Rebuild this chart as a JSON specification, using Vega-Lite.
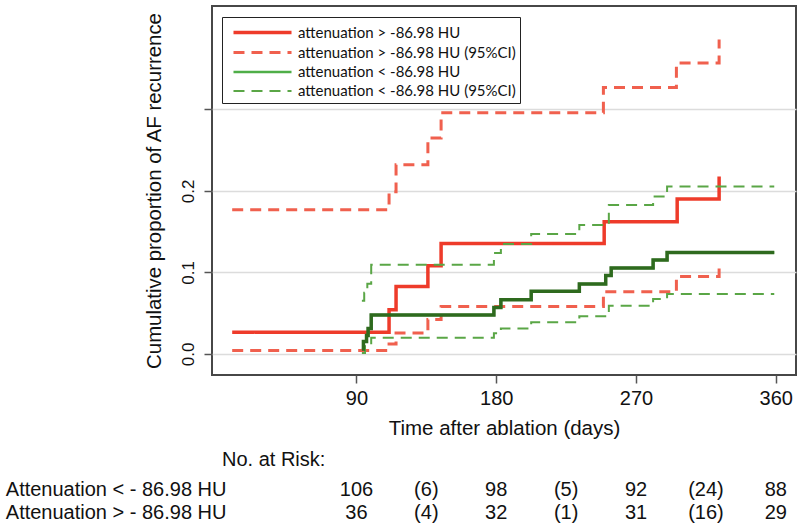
{
  "$schema": "https://vega.github.io/schema/vega-lite/v6.json",
  "padding": 5,
  "config": {
    "font": "Liberation Sans",
    "view": {"stroke": "#474747", "strokeWidth": 2},
    "axis": {"labelColor": "#111", "titleColor": "#111", "tickColor": "#555", "titleFontWeight": "normal"}
  },
  "datasets": {
    "curves": [
      {"series": "attenuation > -86.98 HU", "bound": "est", "t": 10, "p": 0.0265},
      {"series": "attenuation > -86.98 HU", "bound": "est", "t": 111, "p": 0.054},
      {"series": "attenuation > -86.98 HU", "bound": "est", "t": 115.5, "p": 0.0825},
      {"series": "attenuation > -86.98 HU", "bound": "est", "t": 136, "p": 0.108},
      {"series": "attenuation > -86.98 HU", "bound": "est", "t": 144.5, "p": 0.1355},
      {"series": "attenuation > -86.98 HU", "bound": "est", "t": 249.5, "p": 0.162},
      {"series": "attenuation > -86.98 HU", "bound": "est", "t": 296.5, "p": 0.19},
      {"series": "attenuation > -86.98 HU", "bound": "est", "t": 323.5, "p": 0.2177},

      {"series": "attenuation > -86.98 HU (95%CI)", "bound": "upper", "t": 10, "p": 0.177},
      {"series": "attenuation > -86.98 HU (95%CI)", "bound": "upper", "t": 111, "p": 0.199},
      {"series": "attenuation > -86.98 HU (95%CI)", "bound": "upper", "t": 115.5, "p": 0.232},
      {"series": "attenuation > -86.98 HU (95%CI)", "bound": "upper", "t": 136, "p": 0.265},
      {"series": "attenuation > -86.98 HU (95%CI)", "bound": "upper", "t": 144.5, "p": 0.296},
      {"series": "attenuation > -86.98 HU (95%CI)", "bound": "upper", "t": 249, "p": 0.327},
      {"series": "attenuation > -86.98 HU (95%CI)", "bound": "upper", "t": 296, "p": 0.357},
      {"series": "attenuation > -86.98 HU (95%CI)", "bound": "upper", "t": 323.5, "p": 0.386},

      {"series": "attenuation > -86.98 HU (95%CI)", "bound": "lower", "t": 10, "p": 0.004},
      {"series": "attenuation > -86.98 HU (95%CI)", "bound": "lower", "t": 111, "p": 0.012},
      {"series": "attenuation > -86.98 HU (95%CI)", "bound": "lower", "t": 115.5, "p": 0.0257},
      {"series": "attenuation > -86.98 HU (95%CI)", "bound": "lower", "t": 136, "p": 0.042},
      {"series": "attenuation > -86.98 HU (95%CI)", "bound": "lower", "t": 144.5, "p": 0.058},
      {"series": "attenuation > -86.98 HU (95%CI)", "bound": "lower", "t": 249, "p": 0.0763},
      {"series": "attenuation > -86.98 HU (95%CI)", "bound": "lower", "t": 296, "p": 0.095},
      {"series": "attenuation > -86.98 HU (95%CI)", "bound": "lower", "t": 323.5, "p": 0.108},

      {"series": "attenuation < -86.98 HU", "bound": "est", "t": 93.5, "p": 0.006},
      {"series": "attenuation < -86.98 HU", "bound": "est", "t": 94.5, "p": 0.015},
      {"series": "attenuation < -86.98 HU", "bound": "est", "t": 96.5, "p": 0.0224},
      {"series": "attenuation < -86.98 HU", "bound": "est", "t": 97.5, "p": 0.031},
      {"series": "attenuation < -86.98 HU", "bound": "est", "t": 99.5, "p": 0.0478},
      {"series": "attenuation < -86.98 HU", "bound": "est", "t": 178.5, "p": 0.057},
      {"series": "attenuation < -86.98 HU", "bound": "est", "t": 183, "p": 0.0665},
      {"series": "attenuation < -86.98 HU", "bound": "est", "t": 202.5, "p": 0.0768},
      {"series": "attenuation < -86.98 HU", "bound": "est", "t": 233.5, "p": 0.0858},
      {"series": "attenuation < -86.98 HU", "bound": "est", "t": 250.5, "p": 0.096},
      {"series": "attenuation < -86.98 HU", "bound": "est", "t": 254, "p": 0.1054},
      {"series": "attenuation < -86.98 HU", "bound": "est", "t": 281, "p": 0.1152},
      {"series": "attenuation < -86.98 HU", "bound": "est", "t": 290, "p": 0.1245},
      {"series": "attenuation < -86.98 HU", "bound": "est", "t": 359, "p": 0.1245},

      {"series": "attenuation < -86.98 HU (95%CI)", "bound": "upper", "t": 93.5, "p": 0.065},
      {"series": "attenuation < -86.98 HU (95%CI)", "bound": "upper", "t": 95, "p": 0.075},
      {"series": "attenuation < -86.98 HU (95%CI)", "bound": "upper", "t": 97, "p": 0.086},
      {"series": "attenuation < -86.98 HU (95%CI)", "bound": "upper", "t": 99.5, "p": 0.1094},
      {"series": "attenuation < -86.98 HU (95%CI)", "bound": "upper", "t": 178.5, "p": 0.1237},
      {"series": "attenuation < -86.98 HU (95%CI)", "bound": "upper", "t": 183, "p": 0.1348},
      {"series": "attenuation < -86.98 HU (95%CI)", "bound": "upper", "t": 202.5, "p": 0.147},
      {"series": "attenuation < -86.98 HU (95%CI)", "bound": "upper", "t": 233.5, "p": 0.158},
      {"series": "attenuation < -86.98 HU (95%CI)", "bound": "upper", "t": 252.5, "p": 0.1826},
      {"series": "attenuation < -86.98 HU (95%CI)", "bound": "upper", "t": 281, "p": 0.193},
      {"series": "attenuation < -86.98 HU (95%CI)", "bound": "upper", "t": 290, "p": 0.2054},
      {"series": "attenuation < -86.98 HU (95%CI)", "bound": "upper", "t": 359, "p": 0.2054},

      {"series": "attenuation < -86.98 HU (95%CI)", "bound": "lower", "t": 93.5, "p": 0.001},
      {"series": "attenuation < -86.98 HU (95%CI)", "bound": "lower", "t": 95.5, "p": 0.0097},
      {"series": "attenuation < -86.98 HU (95%CI)", "bound": "lower", "t": 99.5, "p": 0.0196},
      {"series": "attenuation < -86.98 HU (95%CI)", "bound": "lower", "t": 178.5, "p": 0.0253},
      {"series": "attenuation < -86.98 HU (95%CI)", "bound": "lower", "t": 183, "p": 0.031},
      {"series": "attenuation < -86.98 HU (95%CI)", "bound": "lower", "t": 202.5, "p": 0.0387},
      {"series": "attenuation < -86.98 HU (95%CI)", "bound": "lower", "t": 233.5, "p": 0.046},
      {"series": "attenuation < -86.98 HU (95%CI)", "bound": "lower", "t": 252.5, "p": 0.059},
      {"series": "attenuation < -86.98 HU (95%CI)", "bound": "lower", "t": 281, "p": 0.0674},
      {"series": "attenuation < -86.98 HU (95%CI)", "bound": "lower", "t": 290, "p": 0.0735},
      {"series": "attenuation < -86.98 HU (95%CI)", "bound": "lower", "t": 359, "p": 0.0735}
    ],
    "risk": [
      {"row": "Attenuation < - 86.98 HU", "t": 90, "n": "106"},
      {"row": "Attenuation < - 86.98 HU", "t": 135, "n": "(6)"},
      {"row": "Attenuation < - 86.98 HU", "t": 180, "n": "98"},
      {"row": "Attenuation < - 86.98 HU", "t": 225, "n": "(5)"},
      {"row": "Attenuation < - 86.98 HU", "t": 270, "n": "92"},
      {"row": "Attenuation < - 86.98 HU", "t": 315, "n": "(24)"},
      {"row": "Attenuation < - 86.98 HU", "t": 360, "n": "88"},
      {"row": "Attenuation > - 86.98 HU", "t": 90, "n": "36"},
      {"row": "Attenuation > - 86.98 HU", "t": 135, "n": "(4)"},
      {"row": "Attenuation > - 86.98 HU", "t": 180, "n": "32"},
      {"row": "Attenuation > - 86.98 HU", "t": 225, "n": "(1)"},
      {"row": "Attenuation > - 86.98 HU", "t": 270, "n": "31"},
      {"row": "Attenuation > - 86.98 HU", "t": 315, "n": "(16)"},
      {"row": "Attenuation > - 86.98 HU", "t": 360, "n": "29"}
    ]
  },
  "bounds": "flush",
  "spacing": 103,
  "vconcat": [
    {
      "width": 584,
      "height": 369,
      "data": {"name": "curves"},
      "encoding": {
        "x": {
          "field": "t", "type": "quantitative",
          "scale": {"domain": [-3, 373], "nice": false, "zero": false},
          "axis": {
            "title": "Time after ablation (days)", "values": [90, 180, 270, 360],
            "grid": false, "domain": false, "tickSize": 8, "tickWidth": 1.5,
            "labelFontSize": 20, "labelPadding": 5, "titleFontSize": 20.5, "titlePadding": 10
          }
        },
        "y": {
          "field": "p", "type": "quantitative",
          "scale": {"domain": [-0.026, 0.427], "nice": false, "zero": false},
          "axis": {
            "title": "Cumulative proportion of AF recurrence", "values": [0, 0.1, 0.2, 0.3],
            "labelExpr": "datum.value > 0.25 ? '' : format(datum.value, '.1f')",
            "grid": true, "gridColor": "#dcdcdc", "gridWidth": 1.5,
            "domain": false, "tickSize": 8, "tickWidth": 1.5,
            "labelAngle": -90, "labelFontSize": 17, "labelPadding": 7,
            "titleFontSize": 20.4, "titlePadding": 15
          }
        }
      },
      "layer": [
        {
          "mark": {"type": "line", "interpolate": "step-after"},
          "encoding": {
            "color": {
              "field": "series", "type": "nominal",
              "scale": {
                "domain": ["attenuation > -86.98 HU", "attenuation > -86.98 HU (95%CI)", "attenuation < -86.98 HU", "attenuation < -86.98 HU (95%CI)"],
                "range": ["#ee3b2a", "#f0604e", "#4fae48", "#5aa646"]
              },
              "legend": {
                "orient": "none", "legendX": 10, "legendY": 11, "title": null,
                "symbolType": "M-3,0H3", "symbolSize": 374, "symbolOffset": 25,
                "labelFont": "Lato", "labelFontSize": 15, "labelColor": "#111", "labelLimit": 400, "labelOffset": 24,
                "strokeColor": "#222", "fillColor": "white", "padding": 4, "rowPadding": -3
              }
            },
            "strokeDash": {
              "field": "series", "type": "nominal",
              "scale": {
                "domain": ["attenuation > -86.98 HU", "attenuation > -86.98 HU (95%CI)", "attenuation < -86.98 HU", "attenuation < -86.98 HU (95%CI)"],
                "range": [[1, 0], [11, 7], [1, 0], [11, 7]]
              }
            },
            "strokeWidth": {
              "field": "series", "type": "nominal",
              "scale": {
                "domain": ["attenuation > -86.98 HU", "attenuation > -86.98 HU (95%CI)", "attenuation < -86.98 HU", "attenuation < -86.98 HU (95%CI)"],
                "range": [3.5, 2, 3.5, 2]
              },
              "legend": null
            },
            "detail": {"field": "bound", "type": "nominal"}
          }
        },
        {
          "transform": [{"filter": "datum.series === 'attenuation < -86.98 HU'"}],
          "mark": {"type": "line", "interpolate": "step-after", "color": "#2e6a1e", "strokeWidth": 3.5}
        }
      ]
    },
    {
      "width": 584,
      "height": 46,
      "view": {"stroke": null},
      "data": {"name": "risk"},
      "title": {"text": "No. at Risk:", "anchor": "start", "frame": "group", "dx": 10, "offset": 8, "fontSize": 20, "fontWeight": "normal", "color": "#111"},
      "mark": {"type": "text", "fontSize": 20, "color": "#111"},
      "encoding": {
        "x": {"field": "t", "type": "quantitative", "scale": {"domain": [-3, 373], "nice": false, "zero": false}, "axis": null},
        "y": {
          "field": "row", "type": "nominal",
          "sort": ["Attenuation < - 86.98 HU", "Attenuation > - 86.98 HU"],
          "axis": {"title": null, "domain": false, "ticks": false, "tickSize": 0, "labelFontSize": 20, "labelPadding": -14, "labelLimit": 400, "labelColor": "#111"}
        },
        "text": {"field": "n", "type": "nominal"}
      }
    }
  ]
}
